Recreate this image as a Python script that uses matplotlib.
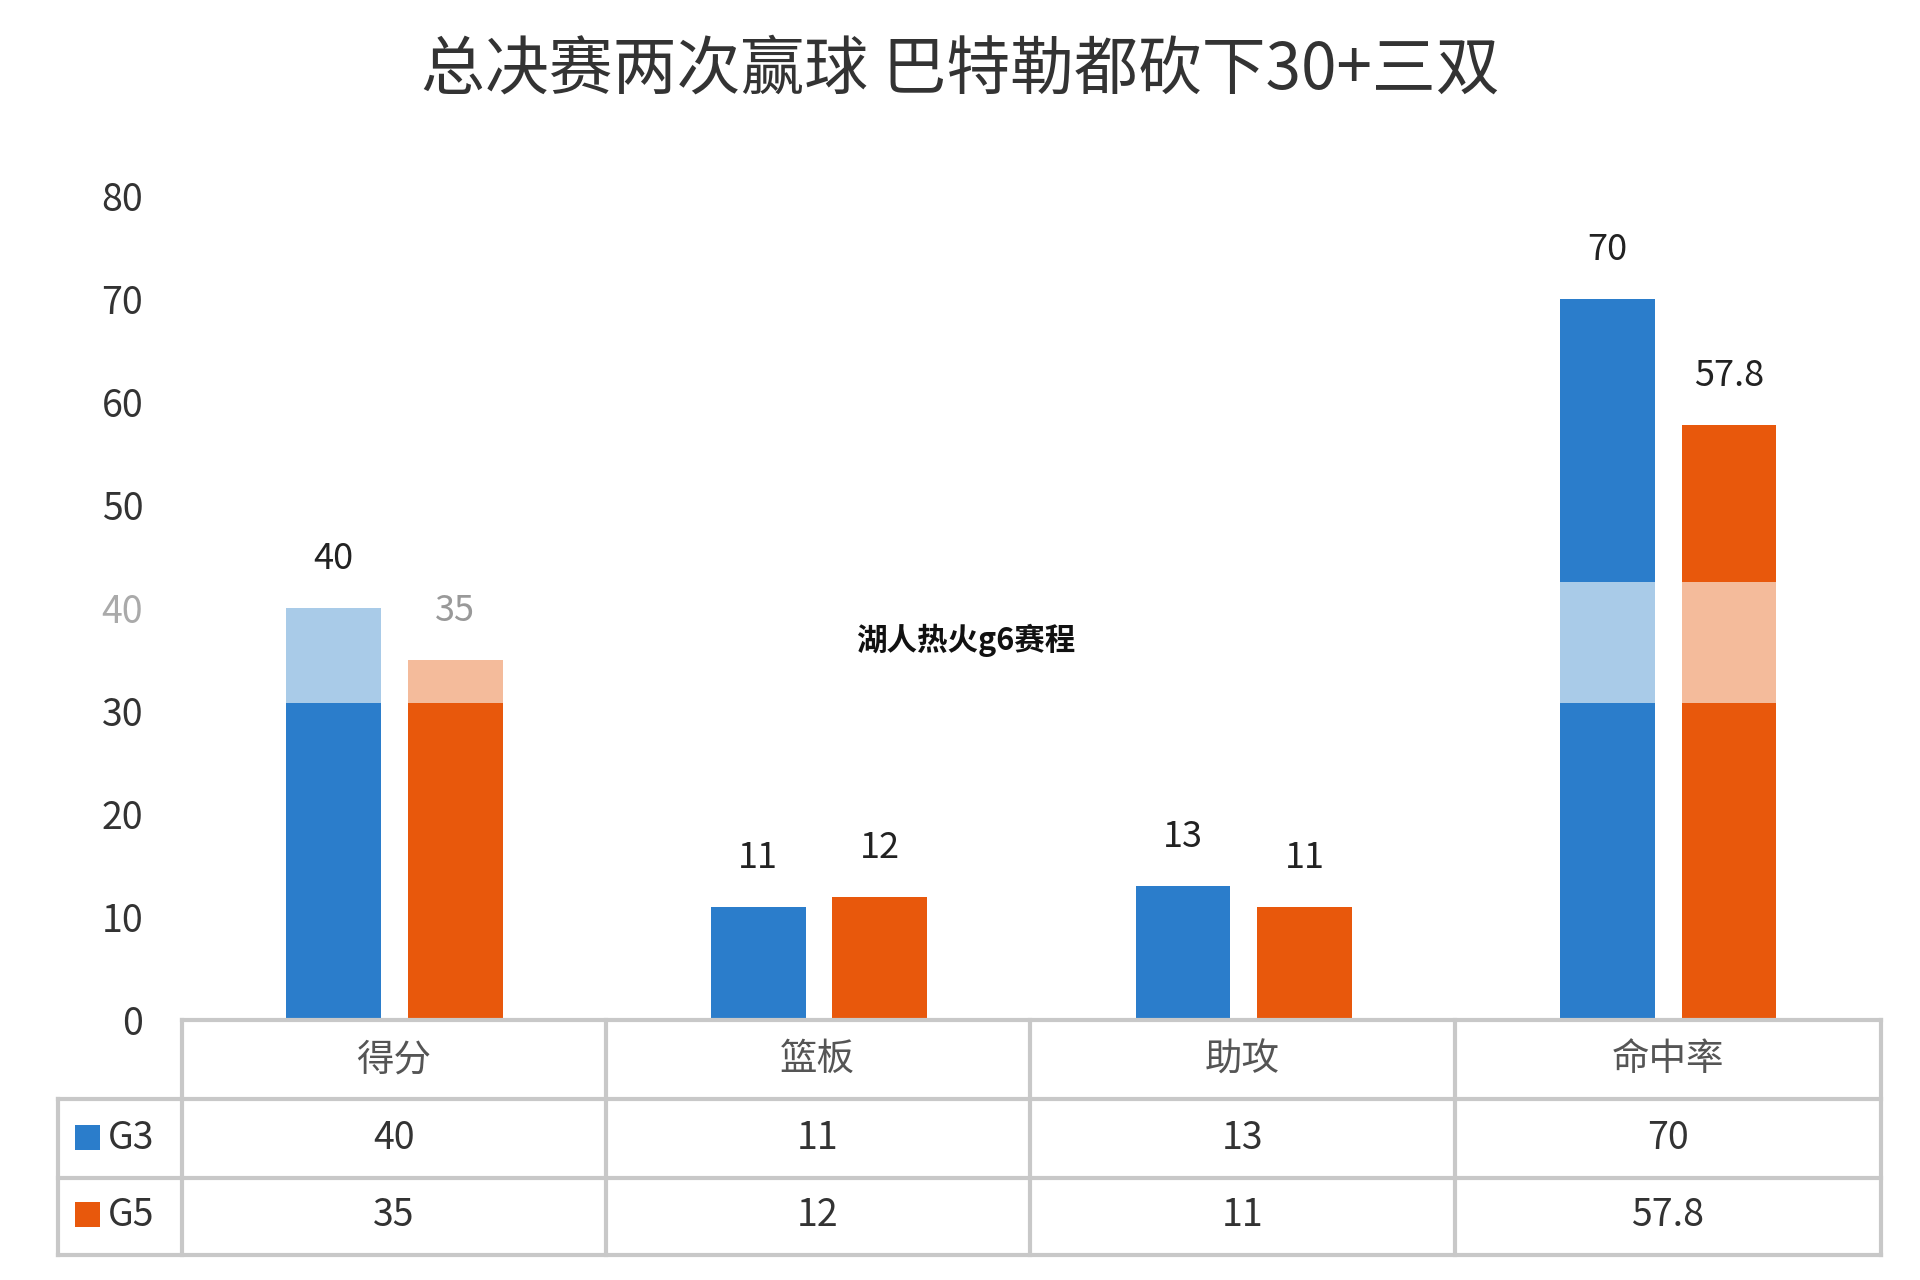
import matplotlib
matplotlib.use("Agg")
import matplotlib.pyplot as plt
from matplotlib.lines import Line2D
from matplotlib.patches import Rectangle

plt.rcParams["font.family"] = ["Noto Sans CJK SC"]

categories = ["得分", "篮板", "助攻", "命中率"]
series_names = ["G3", "G5"]
g3 = [40, 11, 13, 70]
g5 = [35, 12, 11, 57.8]
g5_labels = ["35", "12", "11", "57.8"]
g3_labels = ["40", "11", "13", "70"]
yticks = [0, 10, 20, 30, 40, 50, 60, 70, 80]

blue, orange = "#2b7dcb", "#e8580c"
lblue, lorange = "#a9cbe8", "#f4bb9b"
band = (30.8, 42.5)

W, H = 1560.0, 1040.0
fig = plt.figure(figsize=(19.2, 12.8), dpi=100)
ax = fig.add_axes([148/W, 1-829/H, (1528-148)/W, (829-159)/H])
ax.set_xlim(-0.5, 3.5)
ax.set_ylim(0, 80)
for s in ax.spines.values():
    s.set_visible(False)
ax.set_xticks([])
ax.set_yticks(yticks)
ax.tick_params(axis="y", length=0, pad=28, labelsize=27, labelcolor="#333333")
for t in ax.get_yticklabels():
    if t.get_text() == "40":
        t.set_color("#aaaaaa")

bw, off = 0.223, 0.143
def seg_bar(x, v, c, lc):
    segs = [(0, min(v, band[0]), c), (band[0], min(v, band[1]), lc), (band[1], v, c)]
    for a, b, col in segs:
        if b > a:
            ax.add_patch(Rectangle((x - bw/2, a), bw, b - a, color=col, lw=0))

for i in range(len(categories)):
    seg_bar(i - off, g3[i], blue, lblue)
    seg_bar(i + off, g5[i], orange, lorange)
    ax.text(i - off, g3[i] + 3, g3_labels[i], ha="center", va="bottom", fontsize=26, color="#222222")
    ax.text(i + off, g5[i] + 3, g5_labels[i], ha="center", va="bottom", fontsize=26,
            color="#999999" if i == 0 else "#222222")

fig.text(0.5, 1-57/H, "总决赛两次赢球 巴特勒都砍下30+三双", ha="center", va="center",
         fontsize=46, color="#333333")
fig.text(785/W, 1-520/H, "湖人热火g6赛程", ha="center", va="center", fontsize=22,
         fontweight="bold", color="#111111")

# table
lc = "#c8c8c8"
vx = [148, 492, 837, 1182, 1528]
hy = [829, 893, 957, 1020]
def L(x0, y0, x1, y1):
    fig.add_artist(Line2D([x0/W, x1/W], [1-y0/H, 1-y1/H], color=lc, lw=3))
L(148, 829, 1528, 829)
for y in hy[1:]:
    L(47, y, 1528, y)
for x in vx:
    L(x, 829, x, 1020)
L(47, 893, 47, 1020)
for i, c in enumerate(categories):
    cx = (vx[i] + vx[i+1]) / 2
    fig.text(cx/W, 1-861/H, c, ha="center", va="center", fontsize=27, color="#555555")
    fig.text(cx/W, 1-925/H, g3_labels[i], ha="center", va="center", fontsize=27, color="#333333")
    fig.text(cx/W, 1-988/H, g5_labels[i], ha="center", va="center", fontsize=27, color="#333333")
for name, col, y in [(series_names[0], blue, 925), (series_names[1], orange, 988)]:
    fig.add_artist(Rectangle((61/W, 1-(y+9)/H), 20/W, 20/H, color=col, lw=0))
    fig.text(88/W, 1-y/H, name, ha="left", va="center", fontsize=27, color="#333333")

fig.savefig("out.png", dpi=100, facecolor="white")
